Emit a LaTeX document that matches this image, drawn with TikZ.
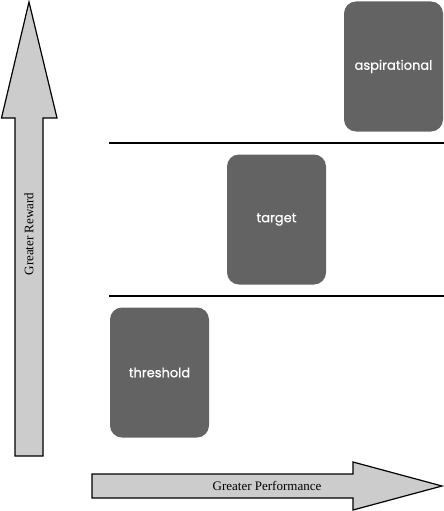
\documentclass[tikz,border=0pt]{standalone}
\usepackage{fontspec}
\setmainfont{Liberation Serif}
\newfontfamily\boxfont[FakeBold=0.8]{Poppins}
\definecolor{boxgray}{HTML}{636363}
\definecolor{arrowgray}{HTML}{CCCCCC}
\begin{document}
\begin{tikzpicture}[x=1pt,y=-1pt,
  levelbox/.style={rectangle, rounded corners=12pt, fill=boxgray, text=white,
    minimum width=99pt, minimum height=130pt, inner sep=0pt,
    font=\boxfont\fontsize{13}{15}\selectfont},
  bigarrow/.style={draw=black, line width=1.2pt, fill=arrowgray, line join=miter},
  axislabel/.style={font=\fontsize{13}{15}\selectfont, inner sep=0pt},
  divider/.style={draw=black, line width=1.2pt}]
\useasboundingbox (0,0) rectangle (444,511);
% vertical arrow
\draw[bigarrow] (29,2) -- (57,118) -- (43,118) -- (43,456) -- (15,456) -- (15,118) -- (1.5,118) -- cycle;
\node[axislabel, rotate=90] (reward) at (29,234) {Greater Reward};
% horizontal arrow
\draw[bigarrow] (92,474) -- (353,474) -- (353,462) -- (442,486) -- (353,510) -- (353,498) -- (92,498) -- cycle;
\node[axislabel] (perf) at (267,486) {Greater Performance};
% dividers
\coordinate (l1a) at (109,143);
\coordinate (l1b) at (444,143);
\coordinate (l2a) at (109,296);
\coordinate (l2b) at (444,296);
\draw[divider] (l1a) -- (l1b);
\draw[divider] (l2a) -- (l2b);
% boxes
\node[levelbox] (asp) at (393.5,66.5) {aspirational};
\node[levelbox] (tgt) at (276.5,219.5) {target};
\node[levelbox] (thr) at (159.5,372.5) {threshold};
\end{tikzpicture}
\end{document}
